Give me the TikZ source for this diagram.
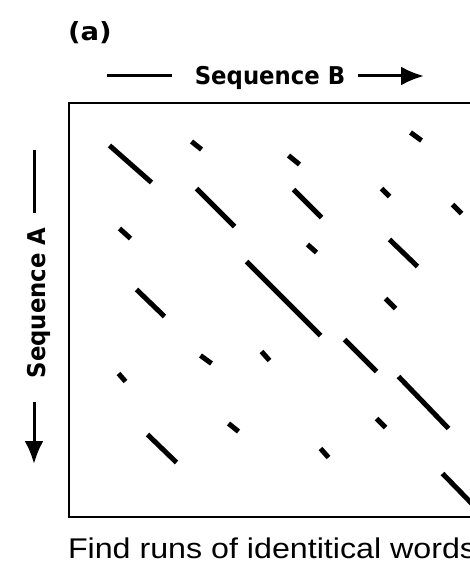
\documentclass[tikz,border=0pt]{standalone}
\usepackage{fontspec}
\setmainfont{Liberation Sans}
\newfontfamily\labelfont{DejaVu Sans}
\usetikzlibrary{arrows.meta}
\tikzset{
  run/.style={line width=5pt, line cap=butt},
  axisline/.style={line width=3pt},
  axisarrow/.style={line width=3pt, -{Latex[length=23pt,width=19pt]}},
  panel/.style={draw, line width=2pt},
  lbl/.style={inner sep=0pt, outer sep=0pt},
}
\begin{document}
\begin{tikzpicture}[x=1pt,y=-1pt]
\useasboundingbox (0,0) rectangle (470,564);
\clip (0,0) rectangle (470,564);
% panel label
\node[lbl, anchor=base west] (tag) at (68,41) {\scalebox{1.1}[1]{\labelfont\bfseries\fontsize{25}{25}\selectfont (a)}};
% Sequence B axis
\node[lbl, anchor=base] (seqB) at (270,85) {\scalebox{0.93}[1]{\labelfont\bfseries\fontsize{24.5}{24.5}\selectfont Sequence B}};
\coordinate (b1) at (107,76);
\coordinate (b2) at (172,76);
\coordinate (b3) at (358,76);
\coordinate (b4) at (424,76);
\draw[axisline] (b1) -- (b2);
\draw[axisarrow] (b3) -- (b4);
% Sequence A axis
\node[lbl, anchor=base, rotate=90] (seqA) at (45,303) {\scalebox{0.93}[1]{\labelfont\bfseries\fontsize{24.5}{24.5}\selectfont Sequence A}};
\coordinate (a1) at (34,150);
\coordinate (a2) at (34,213);
\coordinate (a3) at (34,402);
\coordinate (a4) at (34,464);
\draw[axisline] (a1) -- (a2);
\draw[axisarrow] (a3) -- (a4);
% panel
\draw[panel] (69,103) rectangle (520,517);
% runs
\foreach \xa/\ya/\xb/\yb in {
  108/144/153/184, 190/140/203/151, 287/154/301/166, 409/131/423/142,
  195/187/236/228, 292/188/323/219, 380/187/391/198, 451/203/463/215,
  118/227/132/240, 306/243/318/254, 388/238/419/268, 245/260/322/337,
  135/288/166/318, 384/297/397/310, 343/338/378/373, 199/354/213/365,
  260/350/271/362, 117/372/127/383, 397/375/450/430, 227/422/240/433,
  375/417/387/429, 146/433/178/464, 319/447/330/459, 441/472/480/512}
  \draw[run] (\xa+1.5,\ya+1.5) -- (\xb-1.5,\yb-1.5);
% caption
\node[lbl, anchor=base west] (cap) at (68,558) {\scalebox{1.13}[1]{\fontsize{28.5}{28.5}\selectfont Find runs of identitical words}};
\end{tikzpicture}
\end{document}
